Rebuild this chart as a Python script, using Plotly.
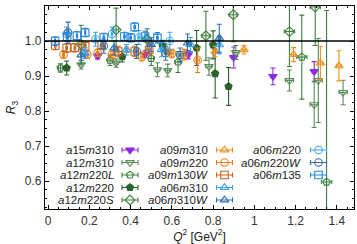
import plotly.graph_objects as go

# ---------------- data ----------------
names = ["a15m310", "a12m310", "a12m220L", "a12m220", "a12m220S",
         "a09m310", "a09m220", "a09m130W", "a06m310", "a06m310W",
         "a06m220", "a06m220W", "a06m135"]
labels = ["<i>a</i>15<i>m</i>310", "<i>a</i>12<i>m</i>310", "<i>a</i>12<i>m</i>220<i>L</i>",
          "<i>a</i>12<i>m</i>220", "<i>a</i>12<i>m</i>220<i>S</i>",
          "<i>a</i>09<i>m</i>310", "<i>a</i>09<i>m</i>220", "<i>a</i>09<i>m</i>130<i>W</i>",
          "<i>a</i>06<i>m</i>310", "<i>a</i>06<i>m</i>310<i>W</i>",
          "<i>a</i>06<i>m</i>220", "<i>a</i>06<i>m</i>220<i>W</i>", "<i>a</i>06<i>m</i>135"]

a15m310_q2 = [0.24, 0.47, 0.68, 0.90, 1.09, 1.29]
a15m310_r3 = [0.957, 0.962, 0.961, 0.953, 0.899, 0.913]
a15m310_err = [0.008, 0.010, 0.012, 0.030, 0.024, 0.028]
a15m310_xerr = [0.008, 0.008, 0.008, 0.010, 0.010, 0.010]

a12m310_q2 = [0.16, 0.33, 0.53, 0.58, 0.78, 0.91, 1.17, 1.29, 1.31, 1.43]
a12m310_r3 = [0.932, 0.937, 0.918, 0.916, 0.927, 0.967, 0.887, 0.818, 0.887, 0.853]
a12m310_err = [0.012, 0.012, 0.020, 0.018, 0.025, 0.020, 0.030, 0.065, 0.120, 0.035]
a12m310_xerr = [0.010, 0.010, 0.012, 0.012, 0.015, 0.015, 0.020, 0.020, 0.020, 0.020]

a12m220L_q2 = [0.06, 0.30, 0.50, 0.63, 1.23, 1.35]
a12m220L_r3 = [0.923, 0.945, 0.950, 0.940, 0.954, 0.597]
a12m220L_err = [0.012, 0.015, 0.020, 0.030, 0.120, 0.490]
a12m220L_xerr = [0.010, 0.010, 0.012, 0.015, 0.025, 0.025]

a12m220_q2 = [0.09, 0.36, 0.555, 0.72, 0.80, 0.81, 0.875]
a12m220_r3 = [0.923, 0.955, 0.987, 0.980, 0.989, 0.907, 0.870]
a12m220_err = [0.020, 0.015, 0.015, 0.050, 0.040, 0.070, 0.054]
a12m220_xerr = [0.008, 0.008, 0.010, 0.010, 0.010, 0.010, 0.010]

a12m220S_q2 = [0.16, 0.33, 0.48, 0.765, 0.898, 1.17, 1.295]
a12m220S_r3 = [0.990, 1.032, 1.005, 1.015, 1.075, 1.027, 1.097]
a12m220S_err = [0.055, 0.062, 0.030, 0.070, 0.077, 0.100, 0.110]
a12m220S_xerr = [0.010, 0.012, 0.015, 0.020, 0.020, 0.025, 0.025]

a09m310_q2 = [0.38, 0.58, 0.81, 0.95, 1.19, 1.32, 1.41]
a09m310_r3 = [0.975, 0.970, 0.970, 0.975, 0.961, 0.937, 0.929]
a09m310_err = [0.008, 0.010, 0.015, 0.012, 0.020, 0.048, 0.043]
a09m310_xerr = [0.005, 0.006, 0.008, 0.008, 0.010, 0.012, 0.012]

a09m220_q2 = [0.075, 0.19, 0.24, 0.31, 0.455, 0.60, 0.66, 0.725]
a09m220_r3 = [0.961, 0.961, 0.966, 0.961, 0.955, 0.964, 0.961, 0.945]
a09m220_err = [0.010, 0.010, 0.010, 0.010, 0.012, 0.012, 0.015, 0.035]
a09m220_xerr = [0.005, 0.005, 0.005, 0.006, 0.006, 0.008, 0.008, 0.008]

a09m130W_q2 = [0.035, 0.09, 0.13, 0.18, 0.26, 0.34, 0.42, 0.49]
a09m130W_r3 = [0.987, 0.980, 0.981, 0.985, 0.989, 0.970, 0.970, 0.975]
a09m130W_err = [0.012, 0.012, 0.012, 0.012, 0.012, 0.015, 0.015, 0.015]
a09m130W_xerr = [0.004, 0.004, 0.004, 0.004, 0.005, 0.005, 0.005, 0.005]

a06m310_q2 = [0.18, 0.38, 0.55, 0.69, 0.83]
a06m310_r3 = [0.965, 0.975, 0.975, 0.990, 0.989]
a06m310_err = [0.015, 0.015, 0.020, 0.020, 0.025]
a06m310_xerr = [0.004, 0.004, 0.005, 0.005, 0.006]

a06m310W_q2 = [0.16, 0.32, 0.50, 0.676, 0.83]
a06m310W_r3 = [0.960, 0.980, 0.990, 0.994, 1.008]
a06m310W_err = [0.015, 0.020, 0.020, 0.026, 0.040]
a06m310W_xerr = [0.004, 0.004, 0.005, 0.005, 0.006]

a06m220_q2 = [0.09, 0.23, 0.31, 0.44, 0.59]
a06m220_r3 = [1.020, 1.005, 1.020, 1.010, 1.000]
a06m220_err = [0.020, 0.020, 0.020, 0.020, 0.025]
a06m220_xerr = [0.004, 0.004, 0.004, 0.005, 0.005]

a06m220W_q2 = [0.097, 0.27, 0.43, 0.57, 0.64]
a06m220W_r3 = [1.024, 0.985, 0.970, 0.965, 0.960]
a06m220W_err = [0.030, 0.020, 0.020, 0.020, 0.020]
a06m220W_xerr = [0.004, 0.004, 0.004, 0.005, 0.005]

a06m135_q2 = [0.034, 0.092, 0.14, 0.18, 0.27, 0.37, 0.40, 0.42, 0.47, 0.53]
a06m135_r3 = [1.000, 1.012, 1.015, 1.024, 1.010, 1.013, 1.009, 1.040, 1.013, 1.009]
a06m135_err = [0.012, 0.012, 0.012, 0.012, 0.012, 0.012, 0.012, 0.012, 0.015, 0.015]
a06m135_xerr = [0.003, 0.003, 0.003, 0.003, 0.004, 0.004, 0.004, 0.004, 0.004, 0.004]

x_ticks = [0, 0.2, 0.4, 0.6, 0.8, 1.0, 1.2, 1.4]
x_ticklabels = ["0", "0.2", "0.4", "0.6", "0.8", "1", "1.2", "1.4"]
y_ticks = [0.6, 0.7, 0.8, 0.9, 1.0, 1.1]
y_ticklabels = ["0.6", "0.7", "0.8", "0.9", "1.0", "1.1"]

series = {
    "a15m310": (a15m310_q2, a15m310_r3, a15m310_err, a15m310_xerr),
    "a12m310": (a12m310_q2, a12m310_r3, a12m310_err, a12m310_xerr),
    "a12m220L": (a12m220L_q2, a12m220L_r3, a12m220L_err, a12m220L_xerr),
    "a12m220": (a12m220_q2, a12m220_r3, a12m220_err, a12m220_xerr),
    "a12m220S": (a12m220S_q2, a12m220S_r3, a12m220S_err, a12m220S_xerr),
    "a09m310": (a09m310_q2, a09m310_r3, a09m310_err, a09m310_xerr),
    "a09m220": (a09m220_q2, a09m220_r3, a09m220_err, a09m220_xerr),
    "a09m130W": (a09m130W_q2, a09m130W_r3, a09m130W_err, a09m130W_xerr),
    "a06m310": (a06m310_q2, a06m310_r3, a06m310_err, a06m310_xerr),
    "a06m310W": (a06m310W_q2, a06m310W_r3, a06m310W_err, a06m310W_xerr),
    "a06m220": (a06m220_q2, a06m220_r3, a06m220_err, a06m220_xerr),
    "a06m220W": (a06m220W_q2, a06m220W_r3, a06m220W_err, a06m220W_xerr),
    "a06m135": (a06m135_q2, a06m135_r3, a06m135_err, a06m135_xerr),
}

# ---------------- styles ----------------
styles = {
    "a15m310": ("#8a2be2", "triangle-down"),
    "a12m310": ("#5a8c5a", "triangle-down-open"),
    "a12m220L": ("#3f7f3f", "pentagon-open"),
    "a12m220": ("#2a632a", "pentagon"),
    "a12m220S": ("#3f7f3f", "diamond-open"),
    "a09m310": ("#f0901c", "triangle-up-open"),
    "a09m220": ("#ee7d12", "circle-open"),
    "a09m130W": ("#c8621c", "square-open"),
    "a06m310": ("#3da3e8", "triangle-up-open"),
    "a06m310W": ("#2f6fae", "triangle-up-open"),
    "a06m220": ("#3fa6ec", "circle-open"),
    "a06m220W": ("#2f6ea8", "circle-open"),
    "a06m135": ("#2585dc", "square-open"),
}

W, H = 357, 244
ML, MR, MT, MB = 45, 3, 6, 35
PW, PH = W - ML - MR, H - MT - MB
FONT = "Liberation Sans"

fig = go.Figure()

for n in names:
    q2, r3, err, xerr = series[n]
    col, sym = styles[n]
    fig.add_trace(go.Scatter(
        x=q2, y=r3, mode="markers", showlegend=False,
        marker=dict(symbol=sym, size=7.5, color=col, line=dict(color=col, width=1.1)),
        error_y=dict(type="data", array=err, color=col, thickness=1.1, width=2.5),
        error_x=dict(type="data", array=xerr, color=col, thickness=1.1, width=2),
    ))

# custom legend (text left of symbol, gnuplot style)
col_sym_px = [130, 224.5, 318.5]
col_txt_px = [116, 210, 303]
row_px = [150, 162.5, 175, 187.5, 200]
half_bar = 8.0 / PW
for i, n in enumerate(names):
    c, r = divmod(i, 5)
    col, sym = styles[n]
    xs = (col_sym_px[c] - ML) / PW
    ys = (H - MB - row_px[r]) / PH
    fig.add_trace(go.Scatter(
        x=[xs], y=[ys], xaxis="x2", yaxis="y2", mode="markers", showlegend=False,
        marker=dict(symbol=sym, size=7.5, color=col, line=dict(color=col, width=1.1)),
        error_x=dict(type="data", array=[half_bar], color=col, thickness=1.1, width=2.5),
    ))
    fig.add_annotation(
        x=(col_txt_px[c] - ML) / PW, y=ys, xref="paper", yref="paper",
        text=labels[i], showarrow=False, xanchor="right", yanchor="middle",
        font=dict(family=FONT, size=11.5, color="#222"),
    )

fig.add_shape(type="line", xref="paper", yref="y", x0=0, x1=1, y0=1.0, y1=1.0,
              line=dict(color="black", width=1.3))

axis_common = dict(showgrid=False, zeroline=False, showline=True, linecolor="black",
                   linewidth=1.2, mirror="ticks", ticks="inside", ticklen=4,
                   tickcolor="black", tickwidth=1,
                   tickfont=dict(family=FONT, size=12, color="#333"))

fig.update_layout(
    width=W, height=H, autosize=False,
    margin=dict(l=ML, r=MR, t=MT, b=MB, pad=0),
    plot_bgcolor="white", paper_bgcolor="white",
    xaxis=dict(range=[-0.015, 1.483], tickvals=x_ticks, ticktext=x_ticklabels,
               minor=dict(dtick=0.05, tick0=0, ticks="inside", ticklen=2, tickcolor="black"),
               title=dict(text="<i>Q</i><sup>2</sup> [GeV<sup>2</sup>]", standoff=4,
                          font=dict(family=FONT, size=12, color="#222")),
               **axis_common),
    yaxis=dict(range=[0.52, 1.1], tickvals=y_ticks, ticktext=y_ticklabels,
               minor=dict(dtick=0.025, tick0=0.5, ticks="inside", ticklen=2, tickcolor="black"),
               title=dict(text="<i>R</i><sub>3</sub>", standoff=6,
                          font=dict(family=FONT, size=12, color="#222")),
               **axis_common),
    xaxis2=dict(range=[0, 1], overlaying="x", visible=False, fixedrange=True),
    yaxis2=dict(range=[0, 1], overlaying="y", visible=False, fixedrange=True),
)

fig.write_html("out.html", config={"displayModeBar": False},
               post_script="document.body.style.margin='0';")
